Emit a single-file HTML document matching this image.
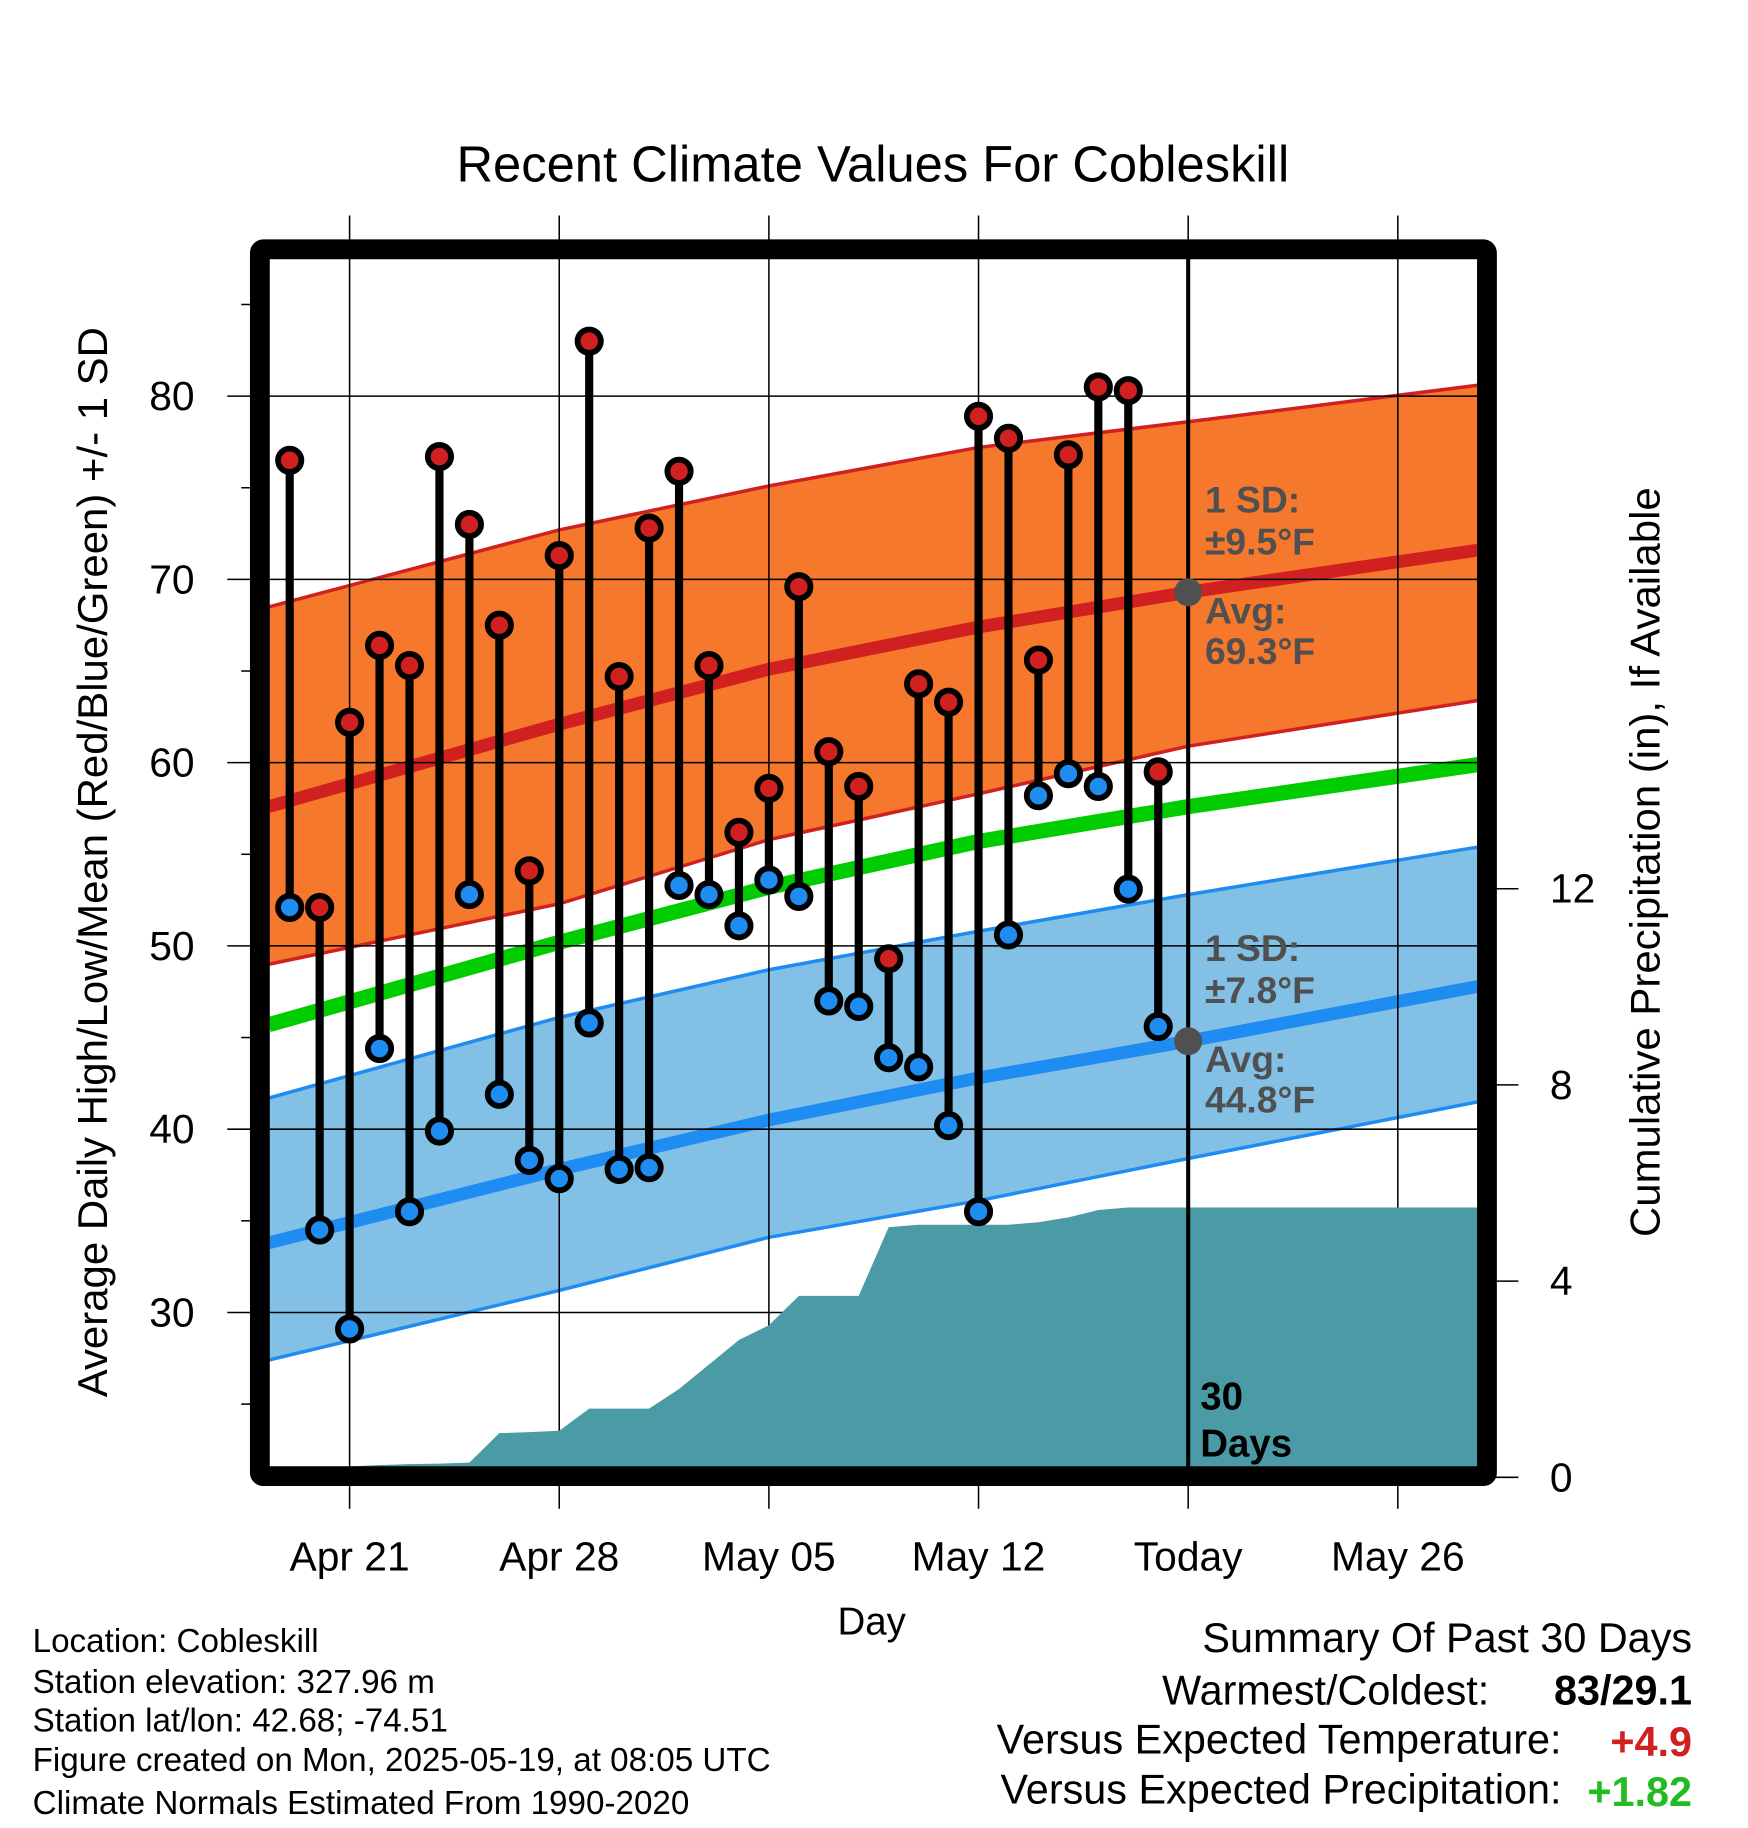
<!DOCTYPE html>
<html><head><meta charset="utf-8">
<style>
html,body{margin:0;padding:0;background:#fff;}
svg{display:block;font-family:"Liberation Sans",Arial,sans-serif;}
</style></head>
<body>
<svg id="chart" width="1748" height="1828" viewBox="0 0 1500 1569" preserveAspectRatio="none" xmlns="http://www.w3.org/2000/svg">
<g id="bands"></g>
<g id="grid"></g>
<g id="precip"></g>
<g id="marks"></g>
<g id="frame"></g>
<g id="labels"></g>
</svg>
<script>
// ---- data ----
const dayLabels = ["Apr 21","Apr 28","May 05","May 12","Today","May 26"];
const dayLabelOffsets = [0,7,14,21,28,35];
const obsDays = [-2,-1,0,1,2,3,4,5,6,7,8,9,10,11,12,13,14,15,16,17,18,19,20,21,22,23,24,25,26,27];
const highs = [76.5,52.1,62.2,66.4,65.3,76.7,73.0,67.5,54.1,71.3,83.0,64.7,72.8,75.9,65.3,56.2,58.6,69.6,60.6,58.7,49.3,64.3,63.3,78.9,77.7,65.6,76.8,80.5,80.3,59.5];
const lows = [52.1,34.5,29.1,44.4,35.5,39.9,52.8,41.9,38.3,37.3,45.8,37.8,37.9,53.3,52.8,51.1,53.6,52.7,47.0,46.7,43.9,43.4,40.2,35.5,50.6,58.2,59.4,58.7,53.1,45.6];
const precip = [0.2,0.2,0.22,0.25,0.27,0.28,0.3,0.9,0.92,0.95,1.4,1.4,1.4,1.8,2.3,2.8,3.1,3.7,3.7,3.7,5.1,5.15,5.15,5.15,5.15,5.2,5.3,5.45,5.5,5.5];
const normDays = [-2.7,7,14,21,28,37.7];
const normHigh = [57.6,62.1,65.1,67.4,69.3,71.6];
const normHighUp = [68.5,72.7,75.1,77.2,78.6,80.6];
const normHighLo = [49.0,52.3,55.8,58.3,60.9,63.4];
const normMean = [45.7,50.2,53.2,55.7,57.6,59.9];
const normLow = [33.8,37.8,40.5,42.8,44.8,47.8];
const normLowUp = [41.7,46.1,48.7,50.8,52.8,55.4];
const normLowLo = [27.4,31.2,34.1,36.1,38.4,41.5];
const tempTicks = [30,40,50,60,70,80];
const tempMinor = [25,35,45,55,65,75,85];
const precipTicks = [0,4,8,12];

// ---- axes ----
const X0=231, X1=1268, Y0=222, YB=1259;
const x = d => 300 + d*25.7;
const y = t => 340 + (80-t)*15.73;
const yp = p => 1268 - p*42.1;
const NS="http://www.w3.org/2000/svg";
function mk(parent,tag,attrs,text){const e=document.createElementNS(NS,tag);for(const k in attrs)e.setAttribute(k,attrs[k]);if(text!==undefined)e.textContent=text;document.getElementById(parent).appendChild(e);return e;}

function bandPath(up,lo){let d="M"+normDays.map((dd,i)=>x(dd)+","+y(up[i])).join(" L");d+=" L"+normDays.slice().reverse().map((dd,i)=>x(dd)+","+y(lo[lo.length-1-i])).join(" L")+"Z";return d;}
function linePath(v){return "M"+normDays.map((dd,i)=>x(dd)+","+y(v[i])).join(" L");}
let e;
e=mk("bands","path",{d:bandPath(normHighUp,normHighLo),fill:"#f5782d"});


e=mk("bands","path",{d:linePath(normHighUp),fill:"none",stroke:"#d02020","stroke-width":3});


e=mk("bands","path",{d:linePath(normHighLo),fill:"none",stroke:"#d02020","stroke-width":3});


e=mk("bands","path",{d:linePath(normHigh),fill:"none",stroke:"#d02020","stroke-width":11});


e=mk("bands","path",{d:bandPath(normLowUp,normLowLo),fill:"#82c0e6"});


e=mk("bands","path",{d:linePath(normLowUp),fill:"none",stroke:"#1e8cf0","stroke-width":3});


e=mk("bands","path",{d:linePath(normLowLo),fill:"none",stroke:"#1e8cf0","stroke-width":3});


e=mk("bands","path",{d:linePath(normLow),fill:"none",stroke:"#1e8cf0","stroke-width":11});


e=mk("bands","path",{d:linePath(normMean),fill:"none",stroke:"#00cc00","stroke-width":13});



dayLabelOffsets.forEach((d,i)=>{
  e=mk("grid","line",{x1:x(d),x2:x(d),y1:185,y2:1295,stroke:"#000","stroke-width":1.3});
  
  
  e=mk("labels","text",{x:x(d),y:1348,"text-anchor":"middle","font-size":35},dayLabels[i]);
  
  
});
tempTicks.forEach(t=>{
  e=mk("grid","line",{x1:195,x2:X1,y1:y(t),y2:y(t),stroke:"#000","stroke-width":1.3});
  
  
  e=mk("labels","text",{x:167,y:y(t)+12,"text-anchor":"end","font-size":35},String(t));
  
  
});
tempMinor.forEach(t=>{
  e=mk("grid","line",{x1:207,x2:217,y1:y(t),y2:y(t),stroke:"#000","stroke-width":1.3});
  
  
});
precipTicks.forEach(p=>{
  e=mk("grid","line",{x1:1282,x2:1303,y1:yp(p),y2:yp(p),stroke:"#000","stroke-width":1.3});
  
  
  e=mk("labels","text",{x:1330,y:yp(p)+12,"font-size":35},String(p));
  
  
});

let pd="M"+x(obsDays[0])+","+YB;
obsDays.forEach((d,i)=>{pd+=" L"+x(d)+","+yp(precip[i]);});
pd+=" L"+X1+","+yp(precip[precip.length-1])+" L"+X1+","+YB+"Z";
e=mk("precip","path",{d:pd,fill:"#4a9ba6"});



e=mk("marks","line",{x1:x(28),x2:x(28),y1:Y0,y2:YB,stroke:"#000","stroke-width":3.5});



obsDays.forEach((d,i)=>{
  e=mk("marks","line",{x1:x(d),x2:x(d),y1:y(highs[i]),y2:y(lows[i]),stroke:"#000","stroke-width":7});
  
  
});
obsDays.forEach((d,i)=>{
  e=mk("marks","circle",{cx:x(d),cy:y(highs[i]),r:10,fill:"#d02020",stroke:"#000","stroke-width":5});
  
  
  e=mk("marks","circle",{cx:x(d),cy:y(lows[i]),r:10,fill:"#1e8cf0",stroke:"#000","stroke-width":5});
  
  
});
e=mk("marks","circle",{cx:x(28),cy:y(normHigh[4]),r:12,fill:"#505050"});


e=mk("marks","circle",{cx:x(28),cy:y(normLow[4]),r:12,fill:"#505050"});



e=mk("frame","rect",{x:223,y:214,width:1053,height:1053,fill:"none",stroke:"#000","stroke-width":17,rx:3});


</script>
<script>
const L=document.getElementById("labels");
L.insertAdjacentHTML("beforeend",`
<text x="749" y="156" text-anchor="middle" font-size="43.5">Recent Climate Values For Cobleskill</text>
<g fill="#505050" font-weight="bold" font-size="32">
<text x="1034" y="440">1 SD:</text><text x="1034" y="476">±9.5°F</text>
<text x="1034" y="535">Avg:</text><text x="1034" y="570">69.3°F</text></g>
<g fill="#505050" font-weight="bold" font-size="32">
<text x="1034" y="825">1 SD:</text><text x="1034" y="861">±7.8°F</text>
<text x="1034" y="920">Avg:</text><text x="1034" y="955">44.8°F</text></g>
<g fill="#000" font-weight="bold" font-size="33">
<text x="1030" y="1210">30</text><text x="1030" y="1250">Days</text></g>
<text transform="translate(92,740) rotate(-90)" text-anchor="middle" font-size="36">Average Daily High/Low/Mean (Red/Blue/Green) +/- 1 SD</text>
<text transform="translate(1424,740) rotate(-90)" text-anchor="middle" font-size="36">Cumulative Precipitation (in), If Available</text>
<text x="748" y="1403" text-anchor="middle" font-size="33">Day</text>
<g font-size="28.5">
<text x="28" y="1418">Location: Cobleskill</text>
<text x="28" y="1453">Station elevation: 327.96 m</text>
<text x="28" y="1486">Station lat/lon: 42.68; -74.51</text>
<text x="28" y="1520">Figure created on Mon, 2025-05-19, at 08:05 UTC</text>
<text x="28" y="1557">Climate Normals Estimated From 1990-2020</text></g>
<g font-size="35.5">
<text x="1452" y="1418" text-anchor="end">Summary Of Past 30 Days</text>
<text x="1278" y="1463" text-anchor="end">Warmest/Coldest:</text>
<text x="1452" y="1463" text-anchor="end" font-weight="bold">83/29.1</text>
<text x="1340" y="1505" text-anchor="end">Versus Expected Temperature:</text>
<text x="1452" y="1507" text-anchor="end" font-weight="bold" fill="#d02020">+4.9</text>
<text x="1340" y="1548" text-anchor="end">Versus Expected Precipitation:</text>
<text x="1452" y="1550" text-anchor="end" font-weight="bold" fill="#22bb22">+1.82</text></g>
`);
</script>
</body></html>
